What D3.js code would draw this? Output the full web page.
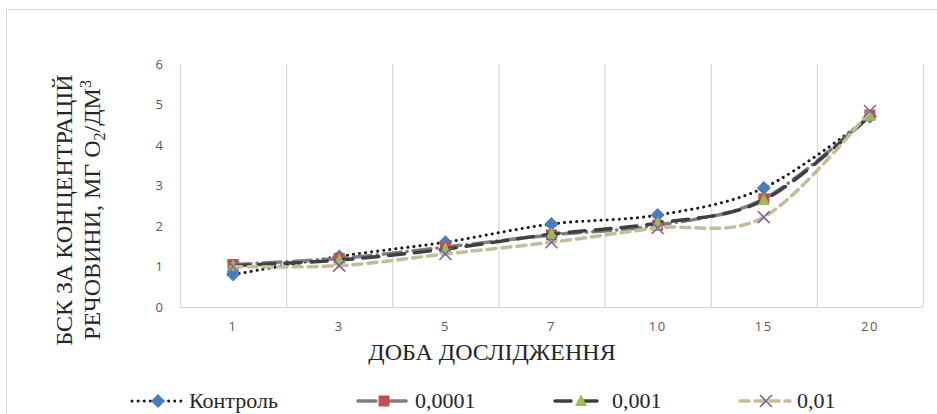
<!DOCTYPE html>
<html><head><meta charset="utf-8">
<script src="https://cdn.jsdelivr.net/npm/d3@7/dist/d3.min.js"></script>
<style>body{margin:0;background:#fff}svg{display:block}</style>
</head><body><svg id="c" width="937" height="414"></svg>
<script>
const days = ["1","3","5","7","10","15","20"];
const yTicks = [0,1,2,3,4,5,6];
const seriesNames = ["Контроль","0,0001","0,001","0,01"];
const control = [0.80,1.25,1.60,2.05,2.27,2.94,4.70];
const c0001 = [1.05,1.20,1.48,1.78,2.02,2.67,4.74];
const c001 = [1.02,1.16,1.43,1.80,2.07,2.64,4.72];
const c01 = [1.00,1.02,1.31,1.60,1.95,2.22,4.84];

const svg = d3.select("#c");
const W=937,H=414;
svg.append("rect").attr("x",6.5).attr("y",9.5).attr("width",W).attr("height",H).attr("fill","none").attr("stroke","#d9d9d9");

const x = d3.scaleBand().domain(days).range([180,923]);
const y = d3.scaleLinear().domain([0,6]).range([307,64]);

const g = svg.append("g");
const bounds = days.map(d=>x(d)).concat([x.range()[1]]);
g.selectAll("line.v").data(bounds).join("line")
 .attr("x1",d=>d+0.5).attr("x2",d=>d+0.5).attr("y1",y(6)).attr("y2",y(0))
 .attr("stroke","#d9d9d9").attr("stroke-width",1.2);
g.append("line").attr("x1",180).attr("x2",923).attr("y1",y(0)+0.5).attr("y2",y(0)+0.5)
 .attr("stroke","#d9d9d9").attr("stroke-width",1.2);

const yAxis = d3.axisLeft(y).tickValues(yTicks).tickFormat(d3.format("d")).tickSize(0).tickPadding(0);
const ya = svg.append("g").attr("transform","translate(163,0)").call(yAxis);
ya.select(".domain").remove();
ya.selectAll("text").attr("font-family","'Open Sans',sans-serif").attr("font-size",13).attr("fill","#595959");

const xAxis = d3.axisBottom(x).tickSize(0).tickPadding(0);
const xa = svg.append("g").attr("transform","translate(0,322)").call(xAxis);
xa.select(".domain").remove();
xa.selectAll("text").attr("font-family","'Open Sans',sans-serif").attr("font-size",13).attr("fill","#595959").attr("letter-spacing","1.5px");

svg.append("text").attr("x",492).attr("y",360).attr("text-anchor","middle")
 .attr("font-family","'Liberation Serif',serif").attr("font-size",24).attr("fill","#262626")
 .text("ДОБА ДОСЛІДЖЕННЯ");
const yt = svg.append("text").attr("transform","translate(72,210) rotate(-90)").attr("text-anchor","middle")
 .attr("font-family","'Liberation Serif',serif").attr("font-size",24).attr("fill","#262626");
yt.append("tspan").attr("x",0).attr("y",0).text("БСК ЗА КОНЦЕНТРАЦІЙ");
const t2 = yt.append("tspan").attr("x",0).attr("y",28);
t2.append("tspan").text("РЕЧОВИНИ, МГ O");
t2.append("tspan").attr("font-size",16).attr("dy",5).text("2");
t2.append("tspan").attr("dy",-5).text("/ДМ");
t2.append("tspan").attr("font-size",16).attr("dy",-9).text("3");

const styles = [
 {data:control, stroke:"#1a1a1a", dash:"0.1 6", cap:"round", w:3, marker:"diamond", fill:"#4a7ebb"},
 {data:c0001, stroke:"#7f7f7f", dash:"18 6 0.1 6", cap:"round", w:3.5, marker:"square", fill:"#c0504d"},
 {data:c001, stroke:"#404040", dash:"16 10", cap:"round", w:3.5, marker:"triangle", fill:"#9bbb59"},
 {data:c01, stroke:"#c4bd97", dash:"9 6", cap:"round", w:3.5, marker:"x", fill:"#8064a2"}
];
const line = d3.line().x((d,i)=>x(days[i])+x.bandwidth()/2).y(d=>y(d)).curve(d3.curveCardinal.tension(0));

function drawMarker(sel, type, cx, cy, fill){
  if(type==="diamond"){
    sel.append("path").attr("d",`M${cx},${cy-7}L${cx+7},${cy}L${cx},${cy+7}L${cx-7},${cy}Z`).attr("fill",fill);
  } else if(type==="square"){
    sel.append("rect").attr("x",cx-5.5).attr("y",cy-5.5).attr("width",11).attr("height",11).attr("fill",fill);
  } else if(type==="triangle"){
    sel.append("path").attr("d",`M${cx},${cy-6.5}L${cx+6},${cy+5}L${cx-6},${cy+5}Z`).attr("fill",fill);
  } else {
    sel.append("path").attr("d",`M${cx-6},${cy-6}L${cx+6},${cy+6}M${cx+6},${cy-6}L${cx-6},${cy+6}`).attr("stroke",fill).attr("stroke-width",1.6);
  }
}

styles.forEach(s=>{
  const gg = svg.append("g");
  gg.append("path").datum(s.data).attr("d",line).attr("fill","none").attr("stroke",s.stroke)
    .attr("stroke-width",s.w).attr("stroke-dasharray",s.dash).attr("stroke-linecap",s.cap);
  s.data.forEach((v,i)=>drawMarker(gg,s.marker,x(days[i])+x.bandwidth()/2,y(v),s.fill));
});

const legX = [132,358,555,740];
const legY = 401;
styles.forEach((s,i)=>{
  const lg = svg.append("g");
  const x0 = legX[i];
  lg.append("line").attr("x1",x0).attr("x2",x0+50).attr("y1",legY).attr("y2",legY)
    .attr("stroke",s.stroke).attr("stroke-width",s.w).attr("stroke-dasharray",s.dash).attr("stroke-linecap",s.cap);
  drawMarker(lg,s.marker,x0+26,legY,s.fill);
  lg.append("text").attr("x",x0+57).attr("y",legY+7).attr("font-family","'Liberation Serif',serif")
    .attr("font-size",22).attr("fill","#262626").text(seriesNames[i]);
});
</script></body></html>
